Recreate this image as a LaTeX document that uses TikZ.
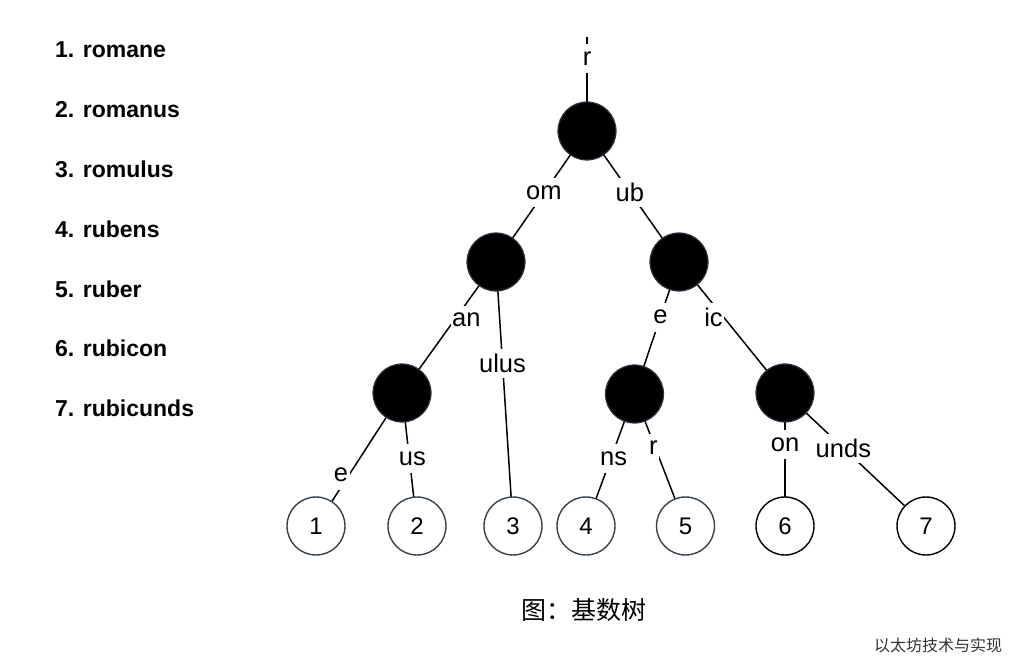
\documentclass[tikz,border=0pt]{standalone}
\usepackage{fontspec}
\setmainfont{Liberation Sans}
\newfontfamily\cjk{Noto Sans CJK SC}
\definecolor{slateedge}{HTML}{36424E}
\definecolor{innerrim}{HTML}{2A3644}
\pgfdeclarelayer{bg}
\pgfsetlayers{bg,main}
\begin{document}
\begin{tikzpicture}[x=1pt,y=-1pt,
  inner/.style={circle,fill=black,draw=innerrim,line width=1.2pt,minimum size=58pt,inner sep=0pt},
  leaf/.style={circle,fill=white,draw=slateedge,line width=1.4pt,minimum size=58pt,inner sep=0pt,font=\fontsize{24}{28}\selectfont},
  leafb/.style={leaf,draw=black},
  edge/.style={line width=1.5pt},
  lbl/.style={fill=white,inner xsep=1.5pt,inner ysep=0pt,minimum height=29pt,font=\fontsize{25.5}{29}\selectfont},
  item/.style={anchor=base west,inner sep=0pt,font=\fontsize{23}{27}\selectfont\bfseries}]
\useasboundingbox (0,0) rectangle (1034,668);
% word list
\node[item] (w1) at (55,58) {1. romane};
\node[item] (w2) at (55,118) {2. romanus};
\node[item] (w3) at (55,178) {3. romulus};
\node[item] (w4) at (55,238) {4. rubens};
\node[item] (w5) at (55,298) {5. ruber};
\node[item] (w6) at (55,357) {6. rubicon};
\node[item] (w7) at (55,417) {7. rubicunds};
% tree nodes
\coordinate (top) at (587,37);
\node[inner] (root) at (587,131) {};
\node[inner] (om) at (496,262) {};
\node[inner] (ub) at (679,262) {};
\node[inner] (an) at (402,393) {};
\node[inner] (e) at (634.5,394) {};
\node[inner] (ic) at (785,393) {};
\node[leaf] (l1) at (316,526) {1};
\node[leaf] (l2) at (417,526) {2};
\node[leaf] (l3) at (513,526) {3};
\node[leaf] (l4) at (586,526) {4};
\node[leaf] (l5) at (685.5,526) {5};
\node[leafb] (l6) at (785,526) {6};
\node[leafb] (l7) at (926,526) {7};
% edges (centre to centre, behind the nodes)
\begin{pgfonlayer}{bg}
\draw[edge] (top) -- node[lbl,pos=0.234]{r} (root.center);
\draw[edge] (root.center) -- node[lbl,pos=0.473]{om} (om.center);
\draw[edge] (root.center) -- node[lbl,pos=0.466]{ub} (ub.center);
\draw[edge] (om.center) -- node[lbl,pos=0.443,xshift=12pt]{an} (an.center);
\draw[edge] (om.center) -- node[lbl,pos=0.383]{ulus} (l3.center);
\draw[edge] (ub.center) -- node[lbl,pos=0.417]{e} (e.center);
\draw[edge] (ub.center) -- node[lbl,pos=0.42,xshift=-10pt]{ic} (ic.center);
\draw[edge] (an.center) -- node[lbl,pos=0.617,xshift=-8pt]{e} (l1.center);
\draw[edge] (an.center) -- node[lbl,pos=0.496,xshift=3pt]{us} (l2.center);
\draw[edge] (e.center) -- node[lbl,pos=0.492,xshift=3pt]{ns} (l4.center);
\draw[edge] (e.center) -- node[lbl,pos=0.41,xshift=-2pt]{r} (l5.center);
\draw[edge] (ic.center) -- node[lbl,pos=0.39]{on} (l6.center);
\draw[edge] (ic.center) -- node[lbl,pos=0.414]{unds} (l7.center);
\end{pgfonlayer}
% caption and watermark
\node[font=\cjk\fontsize{25}{28}\selectfont,inner sep=0pt] (cap) at (584,610) {图：基数树};
\node[font=\cjk\fontsize{16}{18}\selectfont,inner sep=0pt,text=black!80] (wm) at (938,645) {以太坊技术与实现};
\end{tikzpicture}
\end{document}
